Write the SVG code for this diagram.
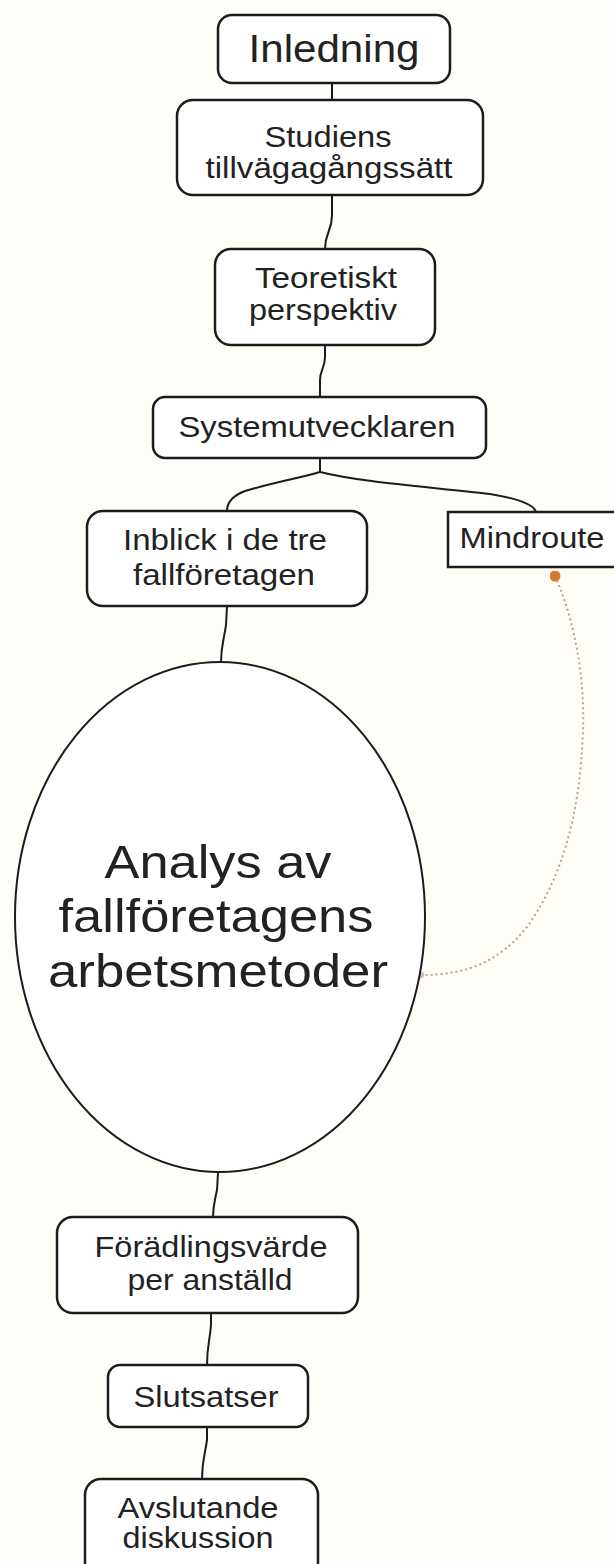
<svg xmlns="http://www.w3.org/2000/svg" width="614" height="1564" viewBox="0 0 614 1564">
<defs>
<style>
.bg{fill:#fefdf8}
.box{fill:#ffffff;stroke:#1c1c1c;stroke-width:2.5}
.ell{fill:#ffffff;stroke:#1c1c1c;stroke-width:2}
.t{font-family:"Liberation Sans",Arial,sans-serif;fill:#222;text-anchor:middle}
.s30{font-size:30px}
.conn{fill:none;stroke:#1c1c1c;stroke-width:2}
.dot{fill:none;stroke:#b8a48a;stroke-width:2;stroke-dasharray:2 3}
</style>
<marker id="startDot" viewBox="0 0 10 10" refX="5" refY="5" markerWidth="5.5" markerHeight="5.5" markerUnits="strokeWidth">
<circle cx="5" cy="5" r="5" fill="#d9782f"/>
</marker>
<marker id="endDot" viewBox="0 0 10 10" refX="5" refY="5" markerWidth="4" markerHeight="4" markerUnits="strokeWidth">
<circle cx="5" cy="5" r="4" fill="#e7b9a6"/>
</marker>
</defs>
<rect class="bg" x="0" y="0" width="614" height="1564"/>
<g id="connectors">
<path class="conn" d="M332,83 L332,100"/>
<path class="conn" d="M332,195 L332,215 C332,232 325,232 325,249"/>
<path class="conn" d="M325,345 L325,357 C325,368 320,370 320,380 L320,397"/>
<path class="conn" d="M320,458 L320,472"/>
<path class="conn" d="M320,472 C300,478 275,482 245,491 C232,496 227,503 227,511"/>
<path class="conn" d="M320,472 C360,482 420,486 490,494 C520,499 534,505 536,512"/>
<path class="conn" d="M227,606 L226,625 C224,640 221,645 221,662"/>
<path class="conn" d="M218,1173 L217,1190 C215,1200 213,1205 213,1217"/>
<path class="conn" d="M211,1313 L211,1325 C210,1340 207,1345 207,1365"/>
<path class="conn" d="M207,1427 L207,1440 C205,1455 202,1460 202,1479"/>
<path class="dot" d="M555,576 C575,620 585,680 583,730 C580,820 560,880 527,927 C500,960 470,975 421,975" marker-start="url(#startDot)" marker-end="url(#endDot)"/>
</g>
<g id="n-inledning">
<rect class="box" x="218" y="15" width="232" height="68" rx="14"/>
<text class="t" x="334" y="62" font-size="39" textLength="171" lengthAdjust="spacingAndGlyphs" fill="#333">Inledning</text>
</g>
<g id="n-studiens">
<rect class="box" x="177" y="100" width="306" height="95" rx="16"/>
<text class="t s30" x="328" y="147" textLength="127" lengthAdjust="spacingAndGlyphs">Studiens</text>
<text class="t s30" x="329" y="178" textLength="247" lengthAdjust="spacingAndGlyphs">tillvägagångssätt</text>
</g>
<g id="n-teoretiskt">
<rect class="box" x="215" y="249" width="220" height="96" rx="16"/>
<text class="t s30" x="326" y="288" textLength="142" lengthAdjust="spacingAndGlyphs">Teoretiskt</text>
<text class="t s30" x="323" y="320" textLength="148" lengthAdjust="spacingAndGlyphs">perspektiv</text>
</g>
<g id="n-systemutvecklaren">
<rect class="box" x="153" y="397" width="333" height="61" rx="12"/>
<text class="t s30" x="317" y="437" textLength="277" lengthAdjust="spacingAndGlyphs">Systemutvecklaren</text>
</g>
<g id="n-inblick">
<rect class="box" x="87" y="511" width="280" height="95" rx="16"/>
<text class="t s30" x="225" y="550" textLength="204" lengthAdjust="spacingAndGlyphs">Inblick i de tre</text>
<text class="t s30" x="224" y="585" textLength="182" lengthAdjust="spacingAndGlyphs">fallföretagen</text>
</g>
<g id="n-mindroute">
<rect class="box" x="448" y="512" width="200" height="55"/>
<text class="t s30" x="532" y="548" textLength="145" lengthAdjust="spacingAndGlyphs">Mindroute</text>
</g>
<g id="n-analys">
<ellipse class="ell" cx="220" cy="917" rx="205" ry="255"/>
<text class="t" x="218" y="878" font-size="46" textLength="227" lengthAdjust="spacingAndGlyphs">Analys av</text>
<text class="t" x="216" y="932" font-size="46" textLength="315" lengthAdjust="spacingAndGlyphs">fallföretagens</text>
<text class="t" x="218" y="987" font-size="46" textLength="340" lengthAdjust="spacingAndGlyphs">arbetsmetoder</text>
</g>
<g id="n-foradling">
<rect class="box" x="57" y="1217" width="301" height="96" rx="16"/>
<text class="t s30" x="211" y="1257" textLength="233" lengthAdjust="spacingAndGlyphs">Förädlingsvärde</text>
<text class="t s30" x="210" y="1290" textLength="165" lengthAdjust="spacingAndGlyphs">per anställd</text>
</g>
<g id="n-slutsatser">
<rect class="box" x="108" y="1365" width="200" height="62" rx="12"/>
<text class="t s30" x="206" y="1407" textLength="145" lengthAdjust="spacingAndGlyphs">Slutsatser</text>
</g>
<g id="n-avslutande">
<rect class="box" x="85" y="1479" width="233" height="100" rx="16"/>
<text class="t s30" x="198" y="1518" textLength="161" lengthAdjust="spacingAndGlyphs">Avslutande</text>
<text class="t s30" x="198" y="1548" textLength="151" lengthAdjust="spacingAndGlyphs">diskussion</text>
</g>
</svg>
